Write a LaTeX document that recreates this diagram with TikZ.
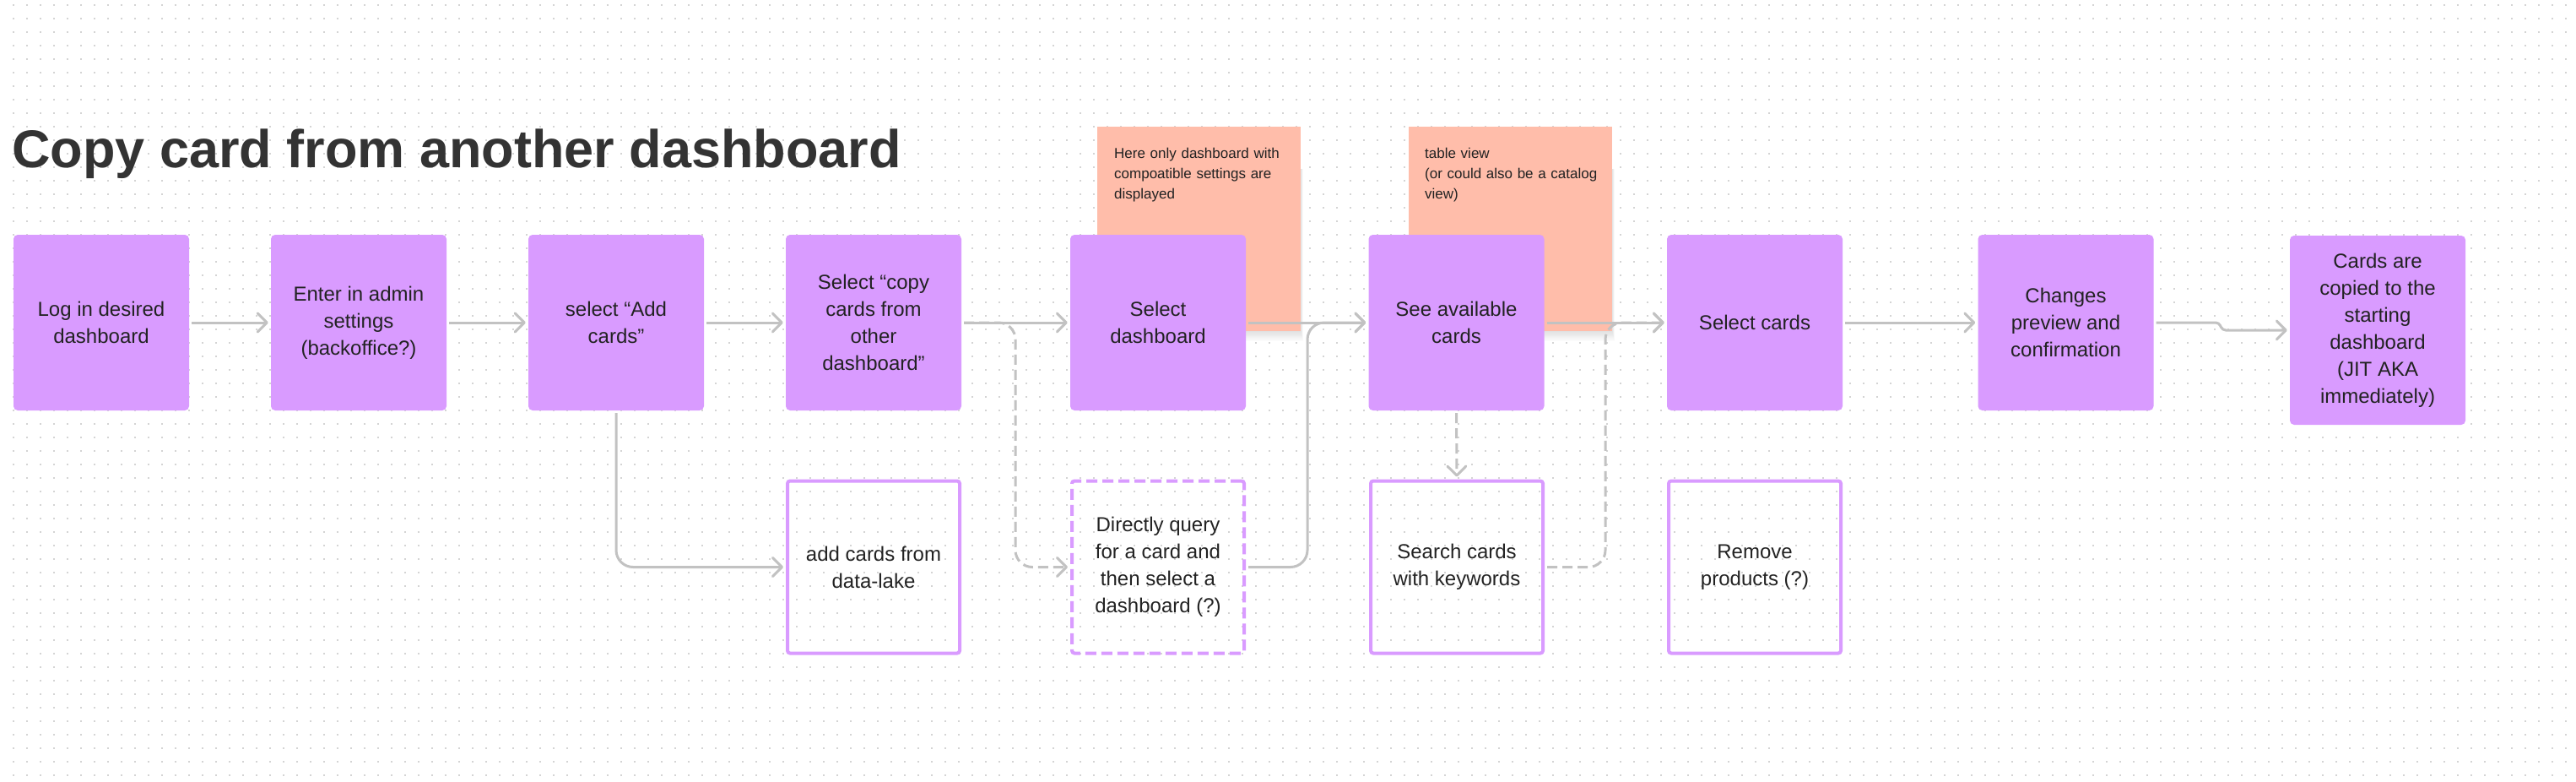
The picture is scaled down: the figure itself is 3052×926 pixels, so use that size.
\documentclass[tikz,border=0pt]{standalone}
\usepackage{fontspec}
\setmainfont{Liberation Sans}
\usetikzlibrary{arrows.meta}
\definecolor{boxpurple}{HTML}{D99BFF}
\definecolor{stickyred}{HTML}{FFBDAA}
\definecolor{conngray}{HTML}{C2C2C2}
\definecolor{dotgray}{HTML}{D4D4D4}
\definecolor{inkdark}{HTML}{222222}
\definecolor{titleink}{HTML}{333333}
\begin{document}
\begin{tikzpicture}[x=1pt,y=-1pt,
  boxtext/.style={align=center, text=inkdark, font=\fontsize{24}{32}\selectfont, inner sep=0pt},
  mainbox/.style={boxtext, rectangle, rounded corners=5pt, fill=boxpurple, minimum width=208pt, minimum height=208pt},
  outbox/.style={boxtext, rectangle, rounded corners=3pt, draw=boxpurple, line width=4pt, minimum width=204pt, minimum height=204pt},
  dashbox/.style={outbox, dash pattern=on 13pt off 6pt},
  sticky/.style={rectangle, fill=stickyred, minimum width=241pt, minimum height=242pt, inner sep=0pt},
  stickyshade/.style={fill=black, opacity=0.012},
  stickytext/.style={anchor=base west, align=left, text width=225pt, font=\fontsize{17}{24}\selectfont, text=inkdark, inner sep=0pt},
  conn/.style={draw=conngray, line width=3pt, shorten >=3pt, shorten <=3pt, -{Straight Barb[length=11pt,width=22pt,round]}},
  dconn/.style={conn, dash pattern=on 12pt off 6pt},
  dotline/.style={draw=dotgray, line width=2pt, dash pattern=on 2pt off 14pt}
]
\useasboundingbox (0,0) rectangle (3052,926);
\fill[white] (0,0) rectangle (3052,926);
% dotted grid
\foreach \i in {0,...,189} {
  \draw[dotline] ({15.5+16*\i},5) -- ({15.5+16*\i},926);
}
% title
\node[anchor=base west, inner sep=0pt, text=titleink, font=\fontsize{63}{70}\selectfont\bfseries] (title) at (14,198) {Copy card from another dashboard};
% sticky note shadows
\foreach \k in {1,...,10} {
  \fill[stickyshade] (1303,200) rectangle ({1541+0.3*\k},{392+1.2*\k});
  \fill[stickyshade] (1671,200) rectangle ({1910+0.3*\k},{392+1.2*\k});
}
% sticky notes
\node[sticky] (s1) at (1420.5,271) {};
\node[sticky] (s2) at (1789,271) {};
\node[stickytext] (s1t) at (1320,187) {Here only dashboard with\\compoatible settings are\\displayed};
\node[stickytext] (s2t) at (1688,187) {table view\\(or could also be a catalog\\view)};
% main row
\node[mainbox] (b1) at (120,382) {Log in desired\\dashboard};
\node[mainbox] (b2) at (425,382) {Enter in admin\\settings\\(backoffice?)};
\node[mainbox] (b3) at (730,382) {select “Add\\cards”};
\node[mainbox] (b4) at (1035,382) {Select “copy\\cards from\\other\\dashboard”};
\node[mainbox] (b5) at (1372,382) {Select\\dashboard};
\node[mainbox] (b6) at (1725.5,382) {See available\\cards};
\node[mainbox] (b7) at (2079,382) {Select cards};
\node[mainbox] (b8) at (2447.5,382) {Changes\\preview and\\confirmation};
\node[mainbox, minimum height=224pt] (b9) at (2817,391) {Cards are\\copied to the\\starting\\dashboard\\(JIT AKA\\immediately)};
% lower row
\node[outbox] (l1) at (1035,671.5) {add cards from\\data-lake};
\node[dashbox] (l2) at (1372,671.5) {Directly query\\for a card and\\then select a\\dashboard (?)};
\node[outbox] (l3) at (1726,671.5) {Search cards\\with keywords};
\node[outbox] (l4) at (2079,671.5) {Remove\\products (?)};
% junction coordinates
\coordinate (j1) at (1203,382);
\coordinate (j2) at (1549,382);
\coordinate (j3) at (1902,382);
\coordinate (j4) at (2629,382);
\coordinate (j5) at (2633,391);
% connectors
\draw[dconn, rounded corners=20pt] (b4.east) -- (j1) |- (l2.west);
\draw[conn, rounded corners=20pt] (l2.east) -| (j2) -- (b6.west);
\draw[dconn, rounded corners=20pt] (l3.east) -| (j3) -- (b7.west);
\draw[conn, rounded corners=20pt] (b3.south) |- (l1.west);
\draw[dconn] (b6.south) -- (l3.north);
\draw[conn] (b1.east) -- (b2.west);
\draw[conn] (b2.east) -- (b3.west);
\draw[conn] (b3.east) -- (b4.west);
\draw[conn] (b4.east) -- (b5.west);
\draw[conn] (b5.east) -- (b6.west);
\draw[conn] (b6.east) -- (b7.west);
\draw[conn] (b7.east) -- (b8.west);
\draw[conn, rounded corners=4pt] (b8.east) -- (j4) -- (j5) -- (b9.west);
\end{tikzpicture}
\end{document}
